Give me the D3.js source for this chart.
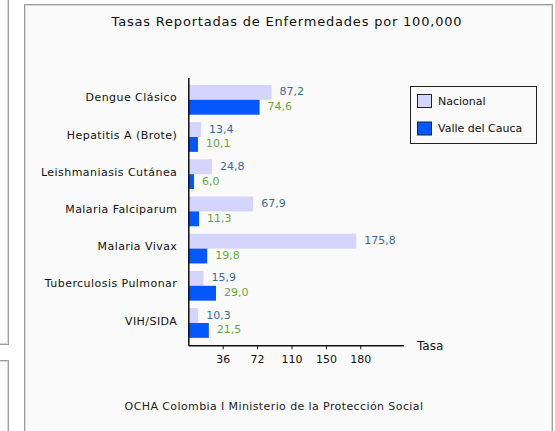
<!DOCTYPE html>
<html>
<head>
<meta charset="utf-8">
<script src="https://cdn.jsdelivr.net/npm/d3@7"></script>
<style>
  body { margin: 0; background: #fff; }
  svg { display: block; font-family: "DejaVu Sans", sans-serif; }
</style>
</head>
<body>
<div id="chart"></div>
<script>
var categories = ["Dengue Clásico", "Hepatitis A (Brote)", "Leishmaniasis Cutánea",
    "Malaria Falciparum", "Malaria Vivax", "Tuberculosis Pulmonar", "VIH/SIDA"];
var seriesNames = ["Nacional", "Valle del Cauca"];
var nacional = [87.2, 13.4, 24.8, 67.9, 175.8, 15.9, 10.3];
var valle = [74.6, 10.1, 6.0, 11.3, 19.8, 29.0, 21.5];
var tickValues = [36, 72, 108, 144, 180];
var tickLabels = ["36", "72", "110", "150", "180"];

var width = 555, height = 431;
var barColors = ["#d4d4fd", "#0457fb"];
var labelColors = ["#3d6a9c", "#6aa53e"];

var svg = d3.select("#chart")
    .append("svg")
    .attr("width", width)
    .attr("height", height);

// panels (left fragments + main frame)
function panel(x, y, w, h) {
    svg.append("rect")
        .attr("x", x + 0.5).attr("y", y + 0.5)
        .attr("width", w).attr("height", h)
        .attr("fill", "#fafafa")
        .attr("stroke", "#9c9c9c");
    svg.append("rect")
        .attr("x", x + 1.5).attr("y", y + 1.5)
        .attr("width", w - 2).attr("height", h - 2)
        .attr("fill", "none")
        .attr("stroke", "#d8d8d8");
}
panel(-20, -20, 28, 364);
panel(-20, 360, 28, 100);
panel(24, 4, 528, 460);

svg.append("text")
    .attr("x", 287).attr("y", 26)
    .attr("text-anchor", "middle")
    .attr("font-size", 13)
    .attr("letter-spacing", 0.8)
    .attr("fill", "#111")
    .text("Tasas Reportadas de Enfermedades por 100,000");

var x = d3.scaleLinear()
    .domain([0, 225])
    .range([188.3, 403.3]);
var y = d3.scaleBand()
    .domain(categories)
    .range([77.5, 345.3])
    .paddingInner(0.2)
    .paddingOuter(0.2);
var ySub = d3.scaleBand()
    .domain(seriesNames)
    .range([0, y.bandwidth()]);

var rows = categories.map(function (c, i) {
    return { cat: c, values: [nacional[i], valle[i]] };
});

var fmt = function (v) { return d3.format(".1f")(v).replace(".", ","); };

var groups = svg.append("g")
    .selectAll("g")
    .data(rows)
    .enter().append("g")
    .attr("transform", function (d) { return "translate(0," + y(d.cat) + ")"; });

groups.selectAll("rect")
    .data(function (d) { return d.values.map(function (v, j) { return { v: v, s: seriesNames[j], j: j }; }); })
    .enter().append("rect")
    .attr("x", x(0))
    .attr("y", function (d) { return ySub(d.s); })
    .attr("width", function (d) { return x(d.v) - x(0); })
    .attr("height", ySub.bandwidth())
    .attr("fill", function (d) { return barColors[d.j]; });

groups.selectAll("text")
    .data(function (d) { return d.values.map(function (v, j) { return { v: v, s: seriesNames[j], j: j }; }); })
    .enter().append("text")
    .attr("x", function (d) { return x(d.v) + 8; })
    .attr("y", function (d) { return ySub(d.s) + ySub.bandwidth() / 2 - 0.5; })
    .attr("dy", "0.32em")
    .attr("font-size", 11)
    .attr("fill", function (d) { return labelColors[d.j]; })
    .text(function (d) { return fmt(d.v); });

// axes
var xAxis = d3.axisBottom(x)
    .tickValues(tickValues)
    .tickFormat(function (d, i) { return tickLabels[i]; })
    .tickSizeInner(4)
    .tickSizeOuter(0)
    .tickPadding(6);
var gx = svg.append("g")
    .attr("transform", "translate(0," + 345.3 + ")")
    .call(xAxis);
gx.select(".domain").attr("stroke", "#111").attr("stroke-width", 1.5);
gx.selectAll(".tick line").attr("stroke", "#111");
gx.selectAll(".tick text").attr("font-size", 11).attr("fill", "#111")
    .attr("font-family", "DejaVu Sans, sans-serif");

var yAxis = d3.axisLeft(y)
    .tickSize(0)
    .tickPadding(11);
var gy = svg.append("g")
    .attr("transform", "translate(" + x(0) + ",0)")
    .call(yAxis);
gy.select(".domain").attr("stroke", "#111").attr("stroke-width", 1.5);
gy.selectAll(".tick text").attr("font-size", 11).attr("fill", "#111")
    .attr("font-family", "DejaVu Sans, sans-serif")
    .attr("letter-spacing", 0.45)
    .attr("dy", "0.15em");

svg.append("text")
    .attr("x", 417).attr("y", 349.5)
    .attr("font-size", 12)
    .attr("fill", "#111")
    .text("Tasa");

// legend
var legend = svg.append("g");
legend.append("rect")
    .attr("x", 410.5).attr("y", 86.5)
    .attr("width", 126).attr("height", 57)
    .attr("fill", "#fafafa")
    .attr("stroke", "#222");
var li = legend.selectAll("g.item")
    .data(seriesNames)
    .enter().append("g")
    .attr("class", "item")
    .attr("transform", function (d, i) { return "translate(0," + (94 + i * 27.5) + ")"; });
li.append("rect")
    .attr("x", 417.5).attr("y", 0.5)
    .attr("width", 14).attr("height", 13)
    .attr("fill", function (d, i) { return barColors[i]; })
    .attr("stroke", "#222");
li.append("text")
    .attr("x", 438).attr("y", 7)
    .attr("dy", "0.32em")
    .attr("font-size", 11)
    .attr("fill", "#111")
    .text(function (d) { return d; });

svg.append("text")
    .attr("x", 274).attr("y", 410)
    .attr("text-anchor", "middle")
    .attr("font-size", 11)
    .attr("letter-spacing", 0.4)
    .attr("fill", "#222")
    .text("OCHA Colombia I Ministerio de la Protección Social");
</script>
</body>
</html>
